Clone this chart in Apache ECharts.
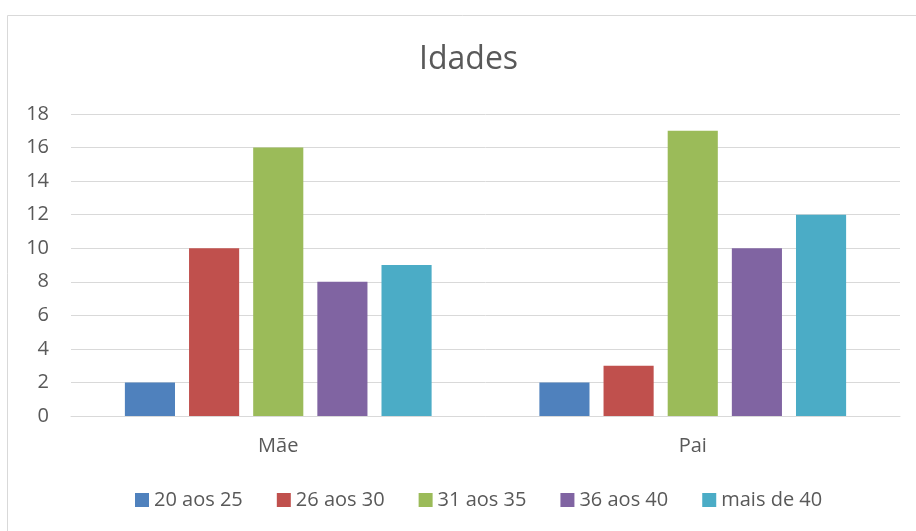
<!DOCTYPE html>
<html>
<head>
<meta charset="utf-8">
<script src="https://cdn.jsdelivr.net/npm/echarts@6/dist/echarts.min.js"></script>
<style>
  html, body { margin: 0; padding: 0; background: #fff; }
  #chart { width: 916px; height: 531px; }
</style>
</head>
<body>
<div id="chart"></div>
<script>
// categories and series
var categories = ["Mãe", "Pai"];
var seriesNames = ["20 aos 25", "26 aos 30", "31 aos 35", "36 aos 40", "mais de 40"];
var s20a25 = [2, 2];
var s26a30 = [10, 3];
var s31a35 = [16, 17];
var s36a40 = [8, 10];
var sMais40 = [9, 12];
var colors = ["#4F81BD", "#C0504D", "#9BBB59", "#8064A2", "#4BACC6"];

var chart = echarts.init(document.getElementById("chart"));
var font = "'Open Sans', 'Noto Sans', sans-serif";

var values = [s20a25, s26a30, s31a35, s36a40, sMais40];
var series = seriesNames.map(function (name, i) {
  return {
    name: name,
    type: "bar",
    data: values[i],
    barGap: "28%",
    barCategoryGap: "26%",
    itemStyle: { color: colors[i] }
  };
});

var option = {
  animation: false,
  textStyle: { fontFamily: font },
  title: {
    text: "Idades",
    left: 414,
    top: 39,
    textStyle: { fontSize: 32, fontWeight: "normal", color: "#595959", fontFamily: font }
  },
  graphic: [
    {
      type: "rect",
      shape: { x: 7.5, y: 15.5, width: 930, height: 530 },
      style: { fill: "none", stroke: "#d9d9d9", lineWidth: 1 },
      silent: true
    }
  ],
  legend: {
    data: seriesNames,
    bottom: 16,
    left: 130,
    itemWidth: 14,
    itemHeight: 14,
    itemGap: 34,
    icon: "rect",
    textStyle: { fontSize: 20, color: "#595959", fontFamily: font }
  },
  grid: { left: 71, right: 16, top: 114, bottom: 115 },
  xAxis: {
    type: "category",
    data: categories,
    axisTick: { show: false },
    axisLine: { lineStyle: { color: "#d9d9d9", width: 1 } },
    axisLabel: { color: "#595959", fontSize: 20, margin: 20, fontFamily: font }
  },
  yAxis: {
    type: "value",
    min: 0,
    max: 18,
    interval: 2,
    axisLine: { show: false },
    axisTick: { show: false },
    splitLine: { lineStyle: { color: "#d9d9d9", width: 1 } },
    axisLabel: { color: "#595959", fontSize: 20, margin: 22, fontFamily: font }
  },
  series: series
};

chart.setOption(option);
</script>
</body>
</html>
